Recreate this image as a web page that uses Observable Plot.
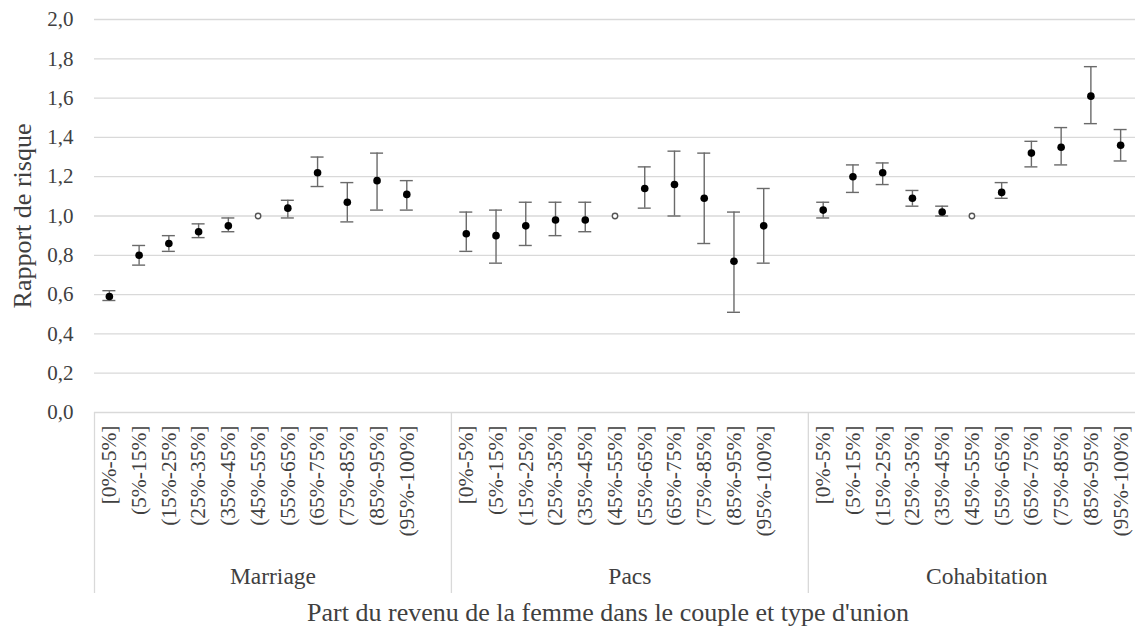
<!DOCTYPE html>
<html>
<head>
<meta charset="utf-8">
<script src="https://cdn.jsdelivr.net/npm/d3@7"></script>
<script src="https://cdn.jsdelivr.net/npm/@observablehq/plot@0.6"></script>
<style>
  html, body { margin: 0; padding: 0; background: #fff; overflow: hidden; }
  svg text { font-family: "Liberation Serif", serif; }
</style>
</head>
<body>
<div id="chart"></div>
<script>
// ---- Data ----
const groups = ["Marriage", "Pacs", "Cohabitation"];
const categories = ["[0%-5%]", "(5%-15%]", "(15%-25%]", "(25%-35%]", "(35%-45%]", "(45%-55%]",
                    "(55%-65%]", "(65%-75%]", "(75%-85%]", "(85%-95%]", "(95%-100%]"];
const refCategory = "(45%-55%]";

const marriageRR = [0.59, 0.80, 0.86, 0.92, 0.95, 1.00, 1.04, 1.22, 1.07, 1.18, 1.11];
const marriageLo = [0.57, 0.75, 0.82, 0.89, 0.92, null, 0.99, 1.15, 0.97, 1.03, 1.03];
const marriageHi = [0.62, 0.85, 0.90, 0.96, 0.99, null, 1.08, 1.30, 1.17, 1.32, 1.18];

const pacsRR = [0.91, 0.90, 0.95, 0.98, 0.98, 1.00, 1.14, 1.16, 1.09, 0.77, 0.95];
const pacsLo = [0.82, 0.76, 0.85, 0.90, 0.92, null, 1.04, 1.00, 0.86, 0.51, 0.76];
const pacsHi = [1.02, 1.03, 1.07, 1.07, 1.07, null, 1.25, 1.33, 1.32, 1.02, 1.14];

const cohabRR = [1.03, 1.20, 1.22, 1.09, 1.02, 1.00, 1.12, 1.32, 1.35, 1.61, 1.36];
const cohabLo = [0.99, 1.12, 1.16, 1.05, 1.00, null, 1.09, 1.25, 1.26, 1.47, 1.28];
const cohabHi = [1.07, 1.26, 1.27, 1.13, 1.05, null, 1.17, 1.38, 1.45, 1.76, 1.44];

const yTicks = [0, 0.2, 0.4, 0.6, 0.8, 1.0, 1.2, 1.4, 1.6, 1.8, 2.0];
const yTitle = "Rapport de risque";
const xTitle = "Part du revenu de la femme dans le couple et type d'union";

// ---- Table built from the arrays ----
const seriesRR = [marriageRR, pacsRR, cohabRR];
const seriesLo = [marriageLo, pacsLo, cohabLo];
const seriesHi = [marriageHi, pacsHi, cohabHi];
const slots = categories.length + 1; // one empty slot between groups

const rows = [];
groups.forEach((g, gi) => categories.forEach((c, ci) => rows.push({
  group: g, category: c, pos: gi * slots + ci,
  rr: seriesRR[gi][ci], lo: seriesLo[gi][ci], hi: seriesHi[gi][ci],
  ref: c === refCategory
})));
const bars = rows.filter(d => !d.ref);
const refs = rows.filter(d => d.ref);
const labelByPos = new Map(rows.map(d => [d.pos, d.category]));
const separators = groups.map((g, gi) => gi * slots - 0.5);
const groupLabels = groups.map((g, gi) => ({group: g, pos: gi * slots + (slots - 1) / 2}));

const font = "'Liberation Serif', serif";
const textColor = "#404040";
const gridColor = "#d9d9d9";
const barColor = "#6a6a6a";

const chart = Plot.plot({
  width: 1135,
  height: 630,
  marginLeft: 94,
  marginRight: 0,
  marginTop: 19,
  marginBottom: 218,
  style: {fontFamily: font, background: "#fff", color: textColor},
  x: {domain: [-0.5, groups.length * slots - 1.5], axis: null},
  y: {domain: [0, 2], axis: null},
  marks: [
    Plot.ruleY(yTicks, {stroke: gridColor, strokeWidth: 1.3}),
    Plot.ruleX(separators, {stroke: gridColor, strokeWidth: 1.3, insetTop: 393, insetBottom: -181}),
    Plot.axisY({ticks: yTicks, tickFormat: v => v.toFixed(1).replace(".", ","), tickSize: 0,
                tickPadding: 21, fontSize: 21, fontFamily: font, label: null, fill: textColor}),
    Plot.axisX({ticks: rows.map(d => d.pos), tickFormat: p => labelByPos.get(p), tickRotate: -90,
                tickSize: 0, tickPadding: 13, fontSize: 21.5, fontFamily: font, label: null, fill: textColor}),
    Plot.text([yTitle], {text: d => d, frameAnchor: "left", textAnchor: "middle", rotate: -90, dx: -82,
                         lineAnchor: "top", fontSize: 26, fontFamily: font, fill: textColor}),
    Plot.text(groupLabels, {x: "pos", text: "group", frameAnchor: "bottom", dy: 171,
                            lineAnchor: "bottom", fontSize: 23.5, fontFamily: font, fill: textColor}),
    Plot.text([xTitle], {text: d => d, frameAnchor: "bottom", dx: -7, dy: 208,
                         lineAnchor: "bottom", fontSize: 26, fontFamily: font, fill: textColor}),
    Plot.ruleX(bars, {x: "pos", y1: "lo", y2: "hi", stroke: barColor, strokeWidth: 1.4}),
    Plot.ruleY(bars, {y: "lo", x1: "pos", x2: "pos", insetLeft: -6.5, insetRight: -6.5,
                      stroke: barColor, strokeWidth: 1.4}),
    Plot.ruleY(bars, {y: "hi", x1: "pos", x2: "pos", insetLeft: -6.5, insetRight: -6.5,
                      stroke: barColor, strokeWidth: 1.4}),
    Plot.dot(bars, {x: "pos", y: "rr", r: 3.8, fill: "#000", stroke: "none"}),
    Plot.dot(refs, {x: "pos", y: "rr", r: 2.7, fill: "#fff", stroke: "#555", strokeWidth: 1.4})
  ]
});
document.getElementById("chart").appendChild(chart);
</script>
</body>
</html>
